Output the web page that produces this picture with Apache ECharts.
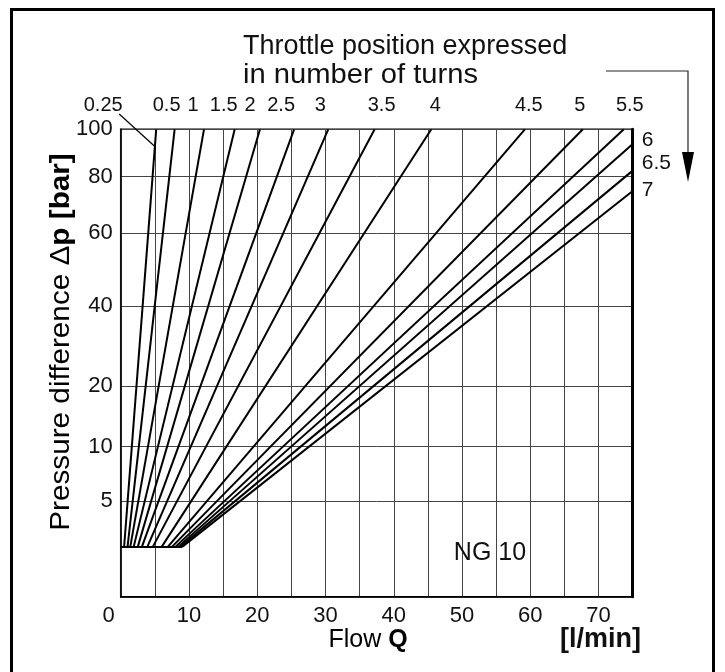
<!DOCTYPE html>
<html><head><meta charset="utf-8">
<script src="https://cdn.jsdelivr.net/npm/echarts@6/dist/echarts.min.js"></script>
<style>html,body{margin:0;padding:0;background:#fff}#c{width:725px;height:672px}</style>
</head><body><div id="c"></div>
<script>
// Throttle positions (number of turns)
const turns = ['0.25','0.5','1','1.5','2','2.5','3','3.5','4','4.5','5','5.5','6','6.5','7'];
// each characteristic line: start flow (at the start pressure) and end point (flow, pressure)
const startFlow = [0.5,1.0,1.4,1.9,2.5,3.1,3.9,4.7,6.0,6.9,7.5,8.0,8.4,8.7,9.0];
const endFlow = [5.2,7.9,12.2,16.7,20.4,25.4,30.4,37.2,45.5,59.2,67.7,73.7,75,75,75];
const endPressure = [100,100,100,100,100,100,100,100,100,100,100,100,93.8,82.5,74.9];
const startPressure = 2.6;
const xTicks = [0,10,20,30,40,50,60,70];
const yTicks = [5,10,20,40,60,80,100];
// non-linear pressure scale of the printed chart: pressure -> share of axis height (%)
const scaleP = [0,5,10,20,40,60,80,100];
const scaleT = [0,20.5,32.1,45.1,62.2,77.8,89.9,100];

function toAxis(p){
  for(let i=1;i<scaleP.length;i++){
    if(p<=scaleP[i]){
      const f=(p-scaleP[i-1])/(scaleP[i]-scaleP[i-1]);
      return scaleT[i-1]+f*(scaleT[i]-scaleT[i-1]);
    }
  }
  return 100;
}
function fromAxis(t){
  for(let i=1;i<scaleT.length;i++){
    if(t<=scaleT[i]+1e-9){
      const f=(t-scaleT[i-1])/(scaleT[i]-scaleT[i-1]);
      return Math.round(scaleP[i-1]+f*(scaleP[i]-scaleP[i-1]));
    }
  }
  return 100;
}
// label placement tweaks (pixels) relative to the line end
const labelDx = [-53,-8,-11,-11,-10,-13,-8,7,4,4,-3,6,0,0,0];
const labelDy = [0,0,0,0,0,0,0,0,0,0,0,0,-4,-7,-1];

const FONT = 'Liberation Sans';
const chart = echarts.init(document.getElementById('c'), null, {renderer:'canvas'});

const series = turns.map((t,i)=>{
  const atTop = endPressure[i] >= 100;
  return {
    type:'line', name:t, symbol:'none', animation:false, silent:true,
    lineStyle:{color:'#000', width:2},
    data:[[startFlow[i], toAxis(startPressure)], [endFlow[i], toAxis(endPressure[i])]],
    markPoint:{
      symbol:'circle', symbolSize:0, animation:false, silent:true,
      label:{show:true, formatter:t, position: atTop ? 'top' : 'right', distance: atTop ? 14 : 9,
             offset:[labelDx[i], labelDy[i]], color:'#111', fontFamily:FONT, fontSize: atTop ? 20 : 21},
      data:[{coord:[endFlow[i], toAxis(endPressure[i])]}]
    }
  };
});
// start-pressure base line
series.push({
  type:'line', symbol:'none', animation:false, silent:true,
  lineStyle:{color:'#000', width:2},
  data:[[0, toAxis(startPressure)], [startFlow[startFlow.length-1], toAxis(startPressure)]]
});

const yVals = yTicks.map(toAxis);

chart.setOption({
  backgroundColor:'#fff',
  animation:false,
  grid:{left:120.7, right:92.3, top:129.3, bottom:75.3, show:true, borderColor:'#000', borderWidth:1.5},
  xAxis:{
    type:'value', min:0, max:75, interval:5,
    axisLine:{show:true, lineStyle:{color:'#000', width:1.5}},
    axisTick:{show:false},
    axisLabel:{customValues:xTicks, color:'#111', fontFamily:FONT, fontSize:22, margin:8,
      formatter:v=> v===0 ? '{z|0}' : String(v),
      rich:{z:{fontFamily:FONT, fontSize:22, color:'#111', padding:[0,24,0,0]}}},
    splitLine:{show:true, lineStyle:{color:'#444', width:1}}
  },
  yAxis:[{
    type:'value', min:0, max:100,
    axisLine:{show:true, lineStyle:{color:'#000', width:1.5}},
    axisTick:{show:false, customValues:yVals},
    axisLabel:{customValues:yVals, formatter:v=>String(fromAxis(v)), color:'#111', fontFamily:FONT, fontSize:22, margin:8,
      padding:[4,0,0,0]},
    splitLine:{show:true, lineStyle:{color:'#444', width:1}}
  },{
    type:'value', min:0, max:100, position:'right',
    axisLine:{show:true, lineStyle:{color:'#000', width:3}},
    axisTick:{show:false}, axisLabel:{show:false}, splitLine:{show:false}
  }],
  series:series
});

// leader line from the 0.25 label to its curve
const t0 = toAxis(startPressure), tHit = toAxis(92.7);
const qHit = startFlow[0] + (endFlow[0]-startFlow[0])*(tHit-t0)/(100-t0);
const hit = chart.convertToPixel({gridIndex:0}, [qHit, tHit]);
const topPt = chart.convertToPixel({gridIndex:0}, [endFlow[0], 100]);
const lblX = topPt[0] + labelDx[0];

chart.setOption({
  graphic:[
    {type:'rect', shape:{x:11.5, y:9.5, width:702, height:700}, style:{fill:'none', stroke:'#000', lineWidth:3}, silent:true},
    {type:'text', x:243, y:47, style:{text:'Throttle position expressed', font:'27px "Liberation Sans"', fill:'#111', align:'left', verticalAlign:'middle'}},
    {type:'text', x:243, y:76, scaleX:1.08, style:{text:'in number of turns', font:'27px "Liberation Sans"', fill:'#111', align:'left', verticalAlign:'middle'}},
    {type:'polyline', shape:{points:[[606,71],[688,71],[688,160]]}, style:{stroke:'#222', lineWidth:1.2, fill:'none'}},
    {type:'polygon', shape:{points:[[682,152],[694,152],[688,182]]}, style:{fill:'#000'}},
    {type:'line', shape:{x1:lblX+16, y1:114, x2:hit[0], y2:hit[1]}, style:{stroke:'#000', lineWidth:1.2}},
    {type:'text', x:62, y:342, rotation:Math.PI/2, scaleX:1.1,
      style:{text:'{n|Pressure difference Δ}{b|p [bar]}', align:'center', verticalAlign:'middle',
        rich:{n:{fontFamily:FONT, fontSize:27, color:'#111'}, b:{fontFamily:FONT, fontSize:27, fontWeight:'bold', color:'#111'}}}},
    {type:'text', x:368, y:640,
      style:{text:'{n|Flow }{b|Q}', align:'center', verticalAlign:'middle',
        rich:{n:{fontFamily:FONT, fontSize:25, color:'#111'}, b:{fontFamily:FONT, fontSize:25, fontWeight:'bold', color:'#111'}}}},
    {type:'text', x:641, y:640, style:{text:'[l/min]', font:'bold 27px "Liberation Sans"', fill:'#111', align:'right', verticalAlign:'middle'}},
    {type:'text', x:490, y:553, style:{text:'NG 10', font:'25px "Liberation Sans"', fill:'#111', align:'center', verticalAlign:'middle'}}
  ]
});
</script></body></html>
